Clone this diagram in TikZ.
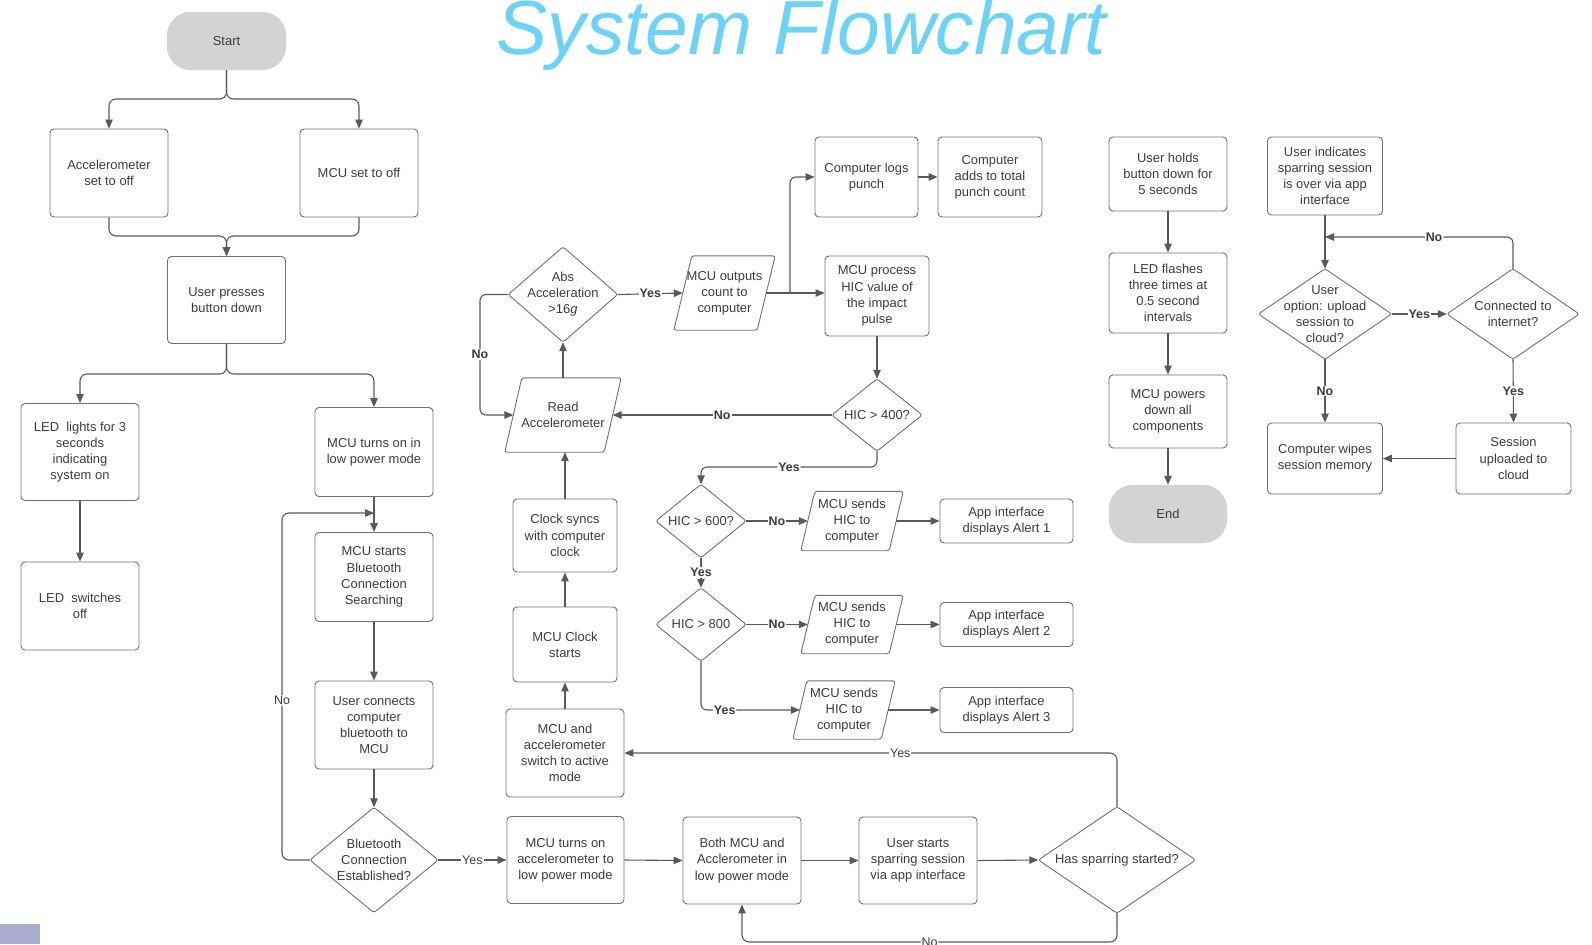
\documentclass[tikz,border=0pt]{standalone}
\usepackage{fontspec}
\setmainfont{Liberation Sans}
\usetikzlibrary{arrows.meta,calc}
\definecolor{bordc}{HTML}{707070}
\definecolor{linec}{HTML}{595959}
\definecolor{txtc}{HTML}{3C3C3C}
\definecolor{termc}{HTML}{D3D3D3}
\definecolor{titlec}{HTML}{6DD2F7}
\definecolor{purp}{HTML}{ABABD1}
\newcommand{\fs}{\fontsize{13}{16.2}\selectfont}
\newcommand{\fl}{\fontsize{12.5}{14}\selectfont}
\begin{document}
\begin{tikzpicture}[x=1bp,y=-1bp,
  box/.style={draw=bordc, line width=0.9bp, rounded corners=4bp, align=center, inner sep=1bp, font=\fs, text=txtc},
  term/.style={fill=termc, draw=termc, rounded corners=24bp, align=center, font=\fs, text=txtc},
  tx/.style={align=center, inner sep=0pt, font=\fs, text=txtc},
  shp/.style={draw=bordc, line width=0.9bp, rounded corners=2.5bp},
  arr/.style={draw=linec, line width=1.1bp, -{Triangle[length=9bp,width=7.5bp]}},
  ln/.style={draw=linec, line width=1.1bp},
  lbl/.style={fill=white, inner sep=1bp, font=\fl, text=txtc},
  lblb/.style={fill=white, inner sep=1bp, font=\fl\bfseries, text=txtc},
  sz/.style 2 args={minimum width=#1bp, minimum height=#2bp},
]
\useasboundingbox (0,0) rectangle (1592,944);
\fill[purp] (0,924) rectangle (40,944);
\node[anchor=base, text=titlec, font=\fontsize{77}{80}\selectfont\itshape, inner sep=0pt] (title) at (801.5,54) {System Flowchart};

% left column
\node[term, sz={119}{58}] (start) at (226.5,41) {Start};
\node[box, sz={118}{88}] (acc) at (109,173) {Accelerometer\\set to off};
\node[box, sz={118}{88}] (mcuoff) at (359,173) {MCU set to off};
\node[box, sz={118}{87}] (press) at (226.5,300) {User presses\\button down};
\node[box, sz={118}{97}] (ledon) at (80,452) {LED\ \ lights for 3\\seconds\\indicating\\system on};
\node[box, sz={118}{88}] (ledoff) at (80,606) {LED\ \ switches\\off};
\node[box, sz={118}{89}] (mcuon) at (374,452) {MCU turns on in\\low power mode};
\node[box, sz={118}{89}] (bts) at (374,577) {MCU starts\\Bluetooth\\Connection\\Searching};
\node[box, sz={118}{88}] (uconn) at (374,725) {User connects\\computer\\bluetooth to\\MCU};
\node[tx, sz={128}{105}] (btd) at (374,860) {Bluetooth\\Connection\\Established?};
\draw[shp] (btd.north)--(btd.east)--(btd.south)--(btd.west)--cycle;

% middle
\node[box, sz={117}{87}] (mcuacc) at (565.5,860) {MCU turns on\\accelerometer to\\low power mode};
\node[box, sz={118}{88}] (active) at (565,753) {MCU and\\accelerometer\\switch to active\\mode};
\node[box, sz={104}{75}] (clk) at (565,644.5) {MCU Clock\\starts};
\node[box, sz={104}{73}] (sync) at (565,535.5) {Clock syncs\\with computer\\clock};
\node[tx, sz={116}{74}] (read) at (563,415) {Read\\Accelerometer};
\draw[shp] ([xshift=17bp]read.north west) -- (read.north east) -- ([xshift=-17bp]read.south east) -- (read.south west) -- cycle;
\node[tx, sz={109}{95}] (abs) at (563,294.5) {Abs\\Acceleration\\>16\textit{g}};
\draw[shp] (abs.north)--(abs.east)--(abs.south)--(abs.west)--cycle;
\node[tx, sz={101}{74}] (out) at (724.5,293) {MCU outputs\\count to\\computer};
\draw[shp] ([xshift=18bp]out.north west) -- (out.north east) -- ([xshift=-18bp]out.south east) -- (out.south west) -- cycle;
\node[box, sz={103}{80}] (logs) at (866.5,177) {Computer logs\\punch};
\node[box, sz={104}{80}] (adds) at (990,177) {Computer\\adds to total\\punch count};
\node[box, sz={104}{80}] (proc) at (877,296) {MCU process\\HIC value of\\the impact\\pulse};
\node[tx, sz={90}{72}] (h400) at (877,415) {HIC > 400?};
\draw[shp] (h400.north)--(h400.east)--(h400.south)--(h400.west)--cycle;
\node[tx, sz={90}{73}] (h600) at (701,521) {HIC > 600?};
\draw[shp] (h600.north)--(h600.east)--(h600.south)--(h600.west)--cycle;
\node[tx, sz={90}{73}] (h800) at (701,624.5) {HIC > 800};
\draw[shp] (h800.north)--(h800.east)--(h800.south)--(h800.west)--cycle;
\node[tx, sz={102}{59}] (s1) at (852,521) {MCU sends\\HIC to\\computer};
\draw[shp] ([xshift=14bp]s1.north west) -- (s1.north east) -- ([xshift=-14bp]s1.south east) -- (s1.south west) -- cycle;
\node[tx, sz={102}{58}] (s2) at (852,624.5) {MCU sends\\HIC to\\computer};
\draw[shp] ([xshift=14bp]s2.north west) -- (s2.north east) -- ([xshift=-14bp]s2.south east) -- (s2.south west) -- cycle;
\node[tx, sz={102}{58}] (s3) at (844,710) {MCU sends\\HIC to\\computer};
\draw[shp] ([xshift=14bp]s3.north west) -- (s3.north east) -- ([xshift=-14bp]s3.south east) -- (s3.south west) -- cycle;
\node[box, sz={133}{44}] (a1) at (1006.5,521) {App interface\\displays Alert 1};
\node[box, sz={133}{44}] (a2) at (1006.5,624.5) {App interface\\displays Alert 2};
\node[box, sz={133}{45}] (a3) at (1006.5,710) {App interface\\displays Alert 3};
\node[box, sz={118}{87}] (both) at (742,860.5) {Both MCU and\\Acclerometer in\\low power mode};
\node[box, sz={118}{87}] (ustart) at (918,860.5) {User starts\\sparring session\\via app interface};
\node[tx, sz={157}{106}] (spar) at (1117,860) {Has sparring started?};
\draw[shp] (spar.north)--(spar.east)--(spar.south)--(spar.west)--cycle;

% right
\node[box, sz={118}{74}] (hold) at (1168,174) {User holds\\button down for\\5 seconds};
\node[box, sz={118}{80}] (flash) at (1168,293) {LED flashes\\three times at\\0.5 second\\intervals};
\node[box, sz={118}{73}] (pdown) at (1168,411.5) {MCU powers\\down all\\components};
\node[term, sz={118}{58}] (end) at (1168,514) {End};
\node[box, sz={115}{78}] (ind) at (1325,176) {User indicates\\sparring session\\is over via app\\interface};
\node[tx, sz={133}{90}] (opt) at (1325,314) {User\\option: upload\\session to\\cloud?};
\draw[shp] (opt.north)--(opt.east)--(opt.south)--(opt.west)--cycle;
\node[tx, sz={132}{90}] (conn) at (1513,314) {Connected to\\internet?};
\draw[shp] (conn.north)--(conn.east)--(conn.south)--(conn.west)--cycle;
\node[box, sz={115}{71}] (wipe) at (1325,458.5) {Computer wipes\\session memory};
\node[box, sz={115}{71}] (upl) at (1513.5,458.5) {Session\\uploaded to\\cloud};

% connectors left
\coordinate (j1) at (226.5,99);
\draw[arr, rounded corners=7bp] (start.south) -- (j1) -| (acc.north);
\draw[arr, rounded corners=7bp] (start.south) -- (j1) -| (mcuoff.north);
\coordinate (j2) at (226.5,236);
\draw[arr, rounded corners=7bp] (acc.south) |- (j2) -- (press.north);
\draw[arr, rounded corners=7bp] (mcuoff.south) |- (j2) -- (press.north);
\coordinate (j3) at (226.5,374);
\draw[arr, rounded corners=7bp] (press.south) -- (j3) -| (ledon.north);
\draw[arr, rounded corners=7bp] (press.south) -- (j3) -| (mcuon.north);
\draw[arr] (ledon.south) -- (ledoff.north);
\draw[arr] (mcuon.south) -- (bts.north);
\draw[arr] (bts.south) -- (uconn.north);
\draw[arr] (uconn.south) -- (btd.north);
\coordinate (j4) at (282,513);
\coordinate (j5) at (374,513);
\draw[arr, rounded corners=7bp] (btd.west) -| node[lbl, pos=0.73]{No} (j4) -- (j5);
\draw[arr] (btd.east) -- node[lbl]{Yes} (mcuacc.west);
\draw[arr] (mcuacc.east) -- (both.west);
\draw[arr] (both.east) -- (ustart.west);
\draw[arr] (ustart.east) -- (spar.west);
\draw[arr, rounded corners=7bp] (spar.north) |- node[lbl, pos=0.72]{Yes} (active.east);
\coordinate (j6) at (742,942);
\draw[arr, rounded corners=7bp] (spar.south) |- node[lbl, pos=0.75]{No} (j6) -- (both.south);

% connectors middle
\draw[arr] (active.north) -- (clk.south);
\draw[arr] (clk.north) -- (sync.south);
\draw[arr] (sync.north) -- (sync.north |- read.south);
\draw[arr] (read.north) -- (abs.south);
\coordinate (j7) at (480,415);
\draw[arr, rounded corners=6bp] (abs.west) -| node[lblb, pos=0.75]{No} (j7) -- ([xshift=8.5bp]read.west);
\draw[arr] (abs.east) -- node[lblb]{Yes} ([xshift=9bp]out.west);
\coordinate (j8) at (790,293);
\draw[ln] ([xshift=-9bp]out.east) -- (j8);
\draw[arr, rounded corners=6bp] (j8) |- (logs.west);
\draw[arr] (j8) -- (j8 -| proc.west);
\draw[arr] (logs.east) -- (adds.west);
\draw[arr] (proc.south) -- (h400.north);
\draw[arr] (h400.west) -- node[lblb]{No} ([xshift=-8.5bp]read.east);
\coordinate (j9) at (701,467);
\draw[arr, rounded corners=6bp] (h400.south) |- node[lblb, pos=0.75]{Yes} (j9) -- (h600.north);
\draw[arr] (h600.east) -- node[lblb]{No} ([xshift=7bp]s1.west);
\draw[arr] ([xshift=-7bp]s1.east) -- (a1.west);
\draw[arr] (h600.south) -- node[lblb]{Yes} (h800.north);
\draw[arr] (h800.east) -- node[lblb]{No} ([xshift=7bp]s2.west);
\draw[arr] ([xshift=-7bp]s2.east) -- (a2.west);
\draw[arr, rounded corners=6bp] (h800.south) |- node[lblb, pos=0.62]{Yes} ([xshift=7bp]s3.west);
\draw[arr] ([xshift=-7bp]s3.east) -- (a3.west);

% connectors right
\draw[arr] (hold.south) -- (flash.north);
\draw[arr] (flash.south) -- (pdown.north);
\draw[arr] (pdown.south) -- (end.north);
\draw[arr] (ind.south) -- (opt.north);
\coordinate (j10) at (1325,237);
\draw[arr, rounded corners=6bp] (conn.north) |- node[lblb, pos=0.71]{No} (j10);
\draw[arr] (opt.east) -- node[lblb]{Yes} (conn.west);
\draw[arr] (opt.south) -- node[lblb]{No} (wipe.north);
\draw[arr] (conn.south) -- node[lblb]{Yes} (upl.north);
\draw[arr] (upl.west) -- (wipe.east);
\end{tikzpicture}
\end{document}
